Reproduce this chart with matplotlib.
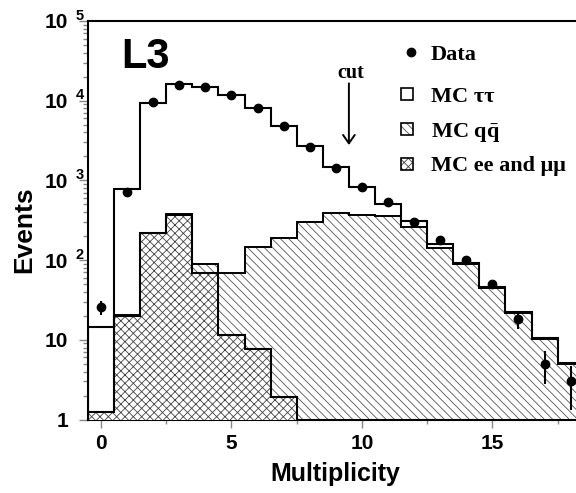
import numpy as np
import matplotlib
matplotlib.use("Agg")
import matplotlib.pyplot as plt
from matplotlib.patches import Rectangle
from matplotlib.lines import Line2D
from matplotlib.transforms import blended_transform_factory

plt.rcParams['hatch.linewidth'] = 0.6
plt.rcParams['mathtext.fontset'] = 'custom'
plt.rcParams['mathtext.rm'] = 'Liberation Serif:bold'
plt.rcParams['mathtext.bf'] = 'Liberation Serif:bold'
plt.rcParams['mathtext.it'] = 'Liberation Serif:bold'

# ---------------- data ----------------
bin_edges = np.arange(-0.5, 19.0, 1.0)          # multiplicity bins 0..18
ee_edges = np.arange(-0.5, 8.0, 1.0)            # ee/mumu bins 0..7
mult = np.arange(0, 19)

mc_total = [14.6, 773, 9440, 16070, 15000, 11700, 8030, 4820, 2700, 1486,
            834, 506, 307, 158, 91.4, 46.4, 22.1, 10.6, 5.07]
mc_qq_level = [1.25, 20.5, 218, 374, 89, 69.5, 145, 188, 298, 392,
               370, 356, 258, 143.6, 89, 45, 21.5, 10.3, 4.95]
mc_ee_level = [1.23, 20, 217, 372, 69.5, 11.5, 7.6, 1.9]

data = [25.6, 709, 9550, 15600, 15000, 11790, 8100, 4820, 2600, 1444,
        834, 530, 301, 178, 100, 50, 18, 5, 3]
data_err = [5, 27, 98, 125, 122, 109, 90, 69, 51, 38,
            29, 23, 17, 13, 10, 7, 4.2, 2.2, 1.7]

cut_x = 9.5
ytick_vals = [1, 10, 100, 1000, 10000, 100000]
ytick_base = ['1', '10', '10', '10', '10', '10']
ytick_exp = ['', '', '2', '3', '4', '5']
xtick_vals = [0, 5, 10, 15]
xtick_minor = [2.5, 7.5, 12.5, 17.5]

legend_labels = ['Data', 'MC \u03c4\u03c4', r'MC q$\bar{\mathrm{q}}$', 'MC ee and \u03bc\u03bc']

# ---------------- figure ----------------
W, H = 576, 493
fig = plt.figure(figsize=(W / 100, H / 100), dpi=100)
fx = lambda x: x / W
fy = lambda y: 1 - y / H

ax = fig.add_axes([fx(88), fy(419.5), (583.7 - 88) / W, (419.5 - 21) / H])
ax.set_yscale('log')
ax.set_xlim(-0.5, 18.5)
ax.set_ylim(1, 1e5)

QQ_HATCH = '\\\\\\\\'
EE_HATCH = 'xxxx'

base = 1e-3
ax.stairs(mc_total, bin_edges, baseline=base, fill=True, facecolor='white',
          edgecolor='none', zorder=1)
ax.stairs(mc_qq_level, bin_edges, baseline=base, fill=True, facecolor='white',
          edgecolor='#555555', hatch=QQ_HATCH, linewidth=0, zorder=2)
ax.stairs(mc_qq_level, bin_edges, baseline=base, fill=False,
          edgecolor='black', linewidth=1.4, zorder=3)
ax.stairs(mc_ee_level, ee_edges, baseline=base, fill=True, facecolor='white',
          edgecolor='#444444', hatch=EE_HATCH, linewidth=0, zorder=4)
ax.stairs(mc_ee_level, ee_edges, baseline=base, fill=False,
          edgecolor='black', linewidth=1.5, zorder=5)
ax.stairs(mc_total, bin_edges, baseline=base, fill=False,
          edgecolor='black', linewidth=1.5, zorder=6)

ax.errorbar(mult, data, yerr=data_err, fmt='o', color='black', ms=6,
            elinewidth=1.5, capsize=0, zorder=10, clip_on=False)

# cut arrow
ax.annotate('', xy=(cut_x, 2780), xytext=(cut_x, 16500),
            arrowprops=dict(arrowstyle='->,head_length=0.6,head_width=0.42',
                            lw=1.4, color='black', shrinkA=0, shrinkB=0),
            zorder=12)
fig.text(fx(351), fy(78.5), 'cut', family='Liberation Serif', weight='bold',
         fontsize=14.5, ha='center', va='baseline')

# spines & ticks
for s in ['left', 'top', 'bottom']:
    ax.spines[s].set_linewidth(1.5)
ax.spines['right'].set_visible(False)
ax.tick_params(which='both', direction='out', color='#888888', width=1,
               labelleft=False, labelbottom=False)
ax.tick_params(which='major', length=6.5)
ax.tick_params(which='minor', length=3.5)
ax.tick_params(axis='x', which='major', length=6)
ax.tick_params(axis='x', which='minor', length=3)
ax.set_xticks(xtick_vals)
ax.set_xticks(xtick_minor, minor=True)
ax.set_yticks(ytick_vals)

# y tick labels
ty = blended_transform_factory(fig.transFigure, ax.transData)
for v, b, e in zip(ytick_vals, ytick_base, ytick_exp):
    ax.text(fx(68.5), v, b, transform=ty, family='Liberation Sans',
            weight='bold', fontsize=15, ha='right', va='center_baseline')
    if e:
        ax.text(fx(76), v * 10 ** (7 / 79.7), e, transform=ty,
                family='Liberation Sans', weight='bold', fontsize=10.5,
                ha='left', va='center_baseline')
# x tick labels
tx = blended_transform_factory(ax.transData, fig.transFigure)
for v in xtick_vals:
    ax.text(v, fy(449), str(v), transform=tx, family='Liberation Sans',
            weight='bold', fontsize=15, ha='center', va='baseline')

# axis labels
fig.text(fx(335.5), fy(481.5), 'Multiplicity', family='Liberation Sans',
         weight='bold', fontsize=18, ha='center', va='baseline')
fig.text(fx(24), fy(230), 'Events', family='Liberation Sans',
         weight='bold', fontsize=19, ha='center', va='center', rotation=90)

# L3 label
fig.text(fx(121), fy(67.7), 'L3', family='Liberation Sans', weight='bold',
         fontsize=30, ha='left', va='baseline')

# legend
rows_y = [52.5, 94, 129, 164]
fig.add_artist(Line2D([fx(410.7)], [fy(52.3)], marker='o', color='black',
                      ms=6, transform=fig.transFigure))
box_styles = [dict(hatch=None, ec='black'),
              dict(hatch=QQ_HATCH, ec='#555555'),
              dict(hatch=EE_HATCH, ec='#444444')]
for yy, st in zip(rows_y[1:], box_styles):
    r = Rectangle((fx(400.7), fy(yy + 6)), 12.6 / W, 12 / H,
                  transform=fig.transFigure, facecolor='white',
                  edgecolor=st['ec'], hatch=st['hatch'], linewidth=0)
    fig.add_artist(r)
    fig.add_artist(Rectangle((fx(400.7), fy(yy + 6)), 12.6 / W, 12 / H,
                             transform=fig.transFigure, facecolor='none',
                             edgecolor='black', linewidth=1.2))
for yy, lab in zip(rows_y, legend_labels):
    fig.text(fx(430.7), fy(yy), lab, family='Liberation Serif', weight='bold',
             fontsize=16, ha='left', va='center_baseline')

fig.savefig('out.png', dpi=100)
